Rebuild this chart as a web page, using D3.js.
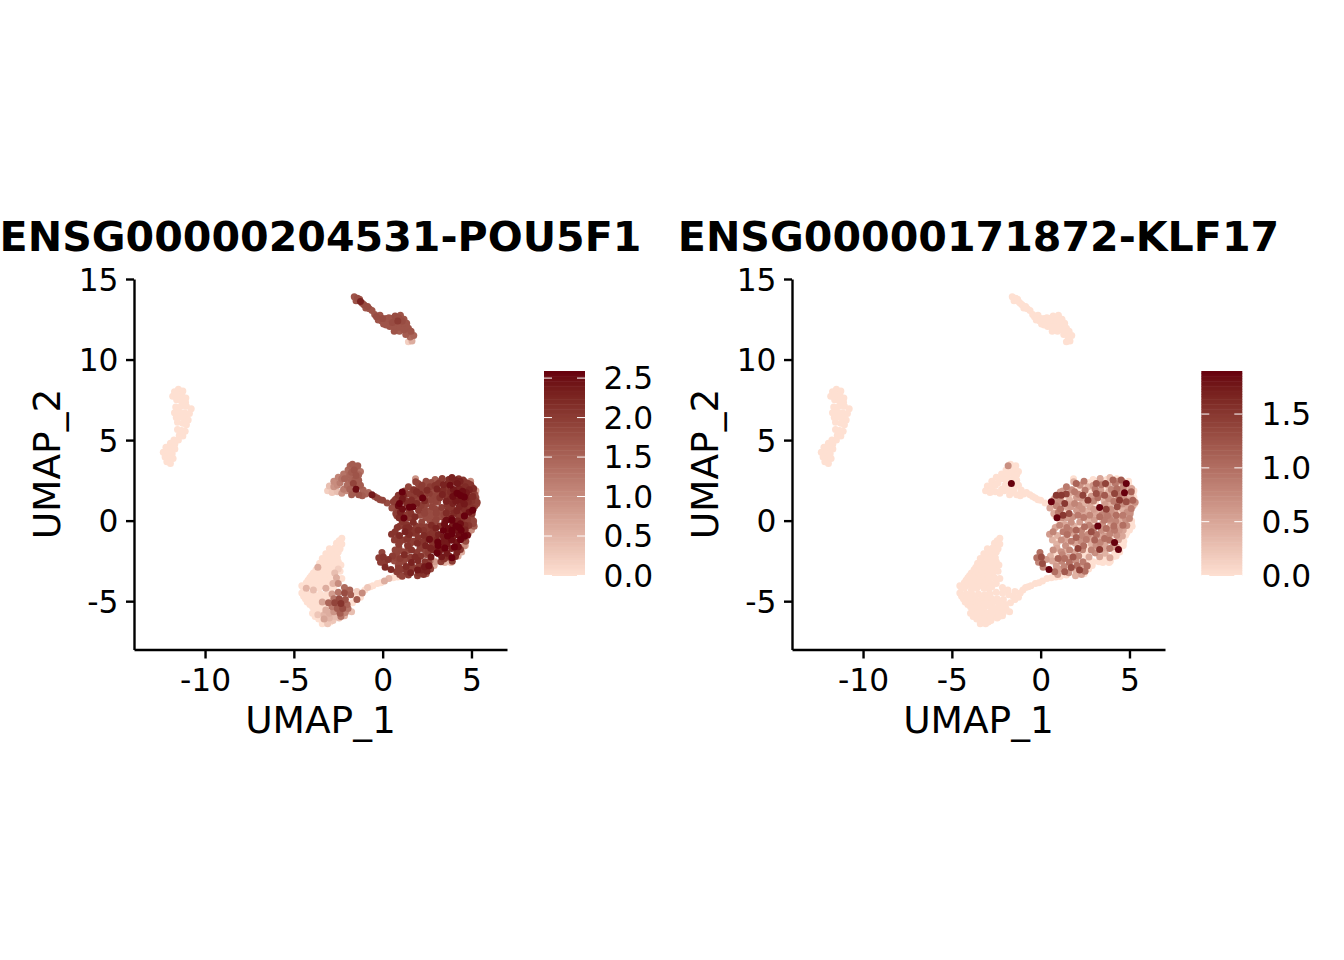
<!DOCTYPE html>
<html><head><meta charset="utf-8">
<script src="https://cdn.jsdelivr.net/npm/d3@7"></script>
<style>html,body{margin:0;padding:0;background:#fff}svg{display:block}text{font-family:"DejaVu Sans";fill:#000}</style>
</head><body><svg id="c" width="1344" height="960"></svg>
<script>
// every cell: [UMAP_1, UMAP_2, POU5F1, KLF17]
const farLeftIsland = [[-11.72,8.0,0,0],[-11.5,8.15,0,0],[-11.25,8.05,0,0],[-11.82,7.72,0,0],[-11.55,7.8,0,0],[-11.3,7.75,0,0],[-11.08,7.62,0,0],[-11.6,7.5,0,0],[-11.35,7.45,0,0],[-11.1,7.35,0,0],[-11.65,7.05,0,0],[-11.35,7.1,0,0],[-11.05,7.1,0,0],[-10.78,6.95,0,0],[-11.72,6.7,0,0],[-11.45,6.75,0,0],[-11.15,6.7,0,0],[-10.88,6.65,0,0],[-11.62,6.4,0,0],[-11.35,6.45,0,0],[-11.08,6.35,0,0],[-10.95,6.25,0,0],[-11.55,6.1,0,0],[-11.25,6.05,0,0],[-11.05,5.95,0,0],[-11.55,5.65,0,0],[-11.32,5.6,0,0],[-11.12,5.55,0,0],[-11.45,5.3,0,0],[-11.25,5.25,0,0],[-11.75,5.0,0,0],[-11.5,5.0,0,0],[-11.95,4.8,0,0],[-11.7,4.75,0,0],[-12.2,4.55,0,0],[-11.95,4.5,0,0],[-11.7,4.45,0,0],[-12.35,4.25,0,0],[-12.1,4.2,0,0],[-11.85,4.15,0,0],[-12.25,3.95,0,0],[-12.0,3.9,0,0],[-11.8,3.85,0,0],[-12.15,3.65,0,0],[-11.95,3.55,0,0]];
const topIsland = [[-1.6,13.9,1.7,0],[-1.42,13.8,1.8,0],[-1.5,13.65,1.7,0],[-1.25,13.6,2.3,0],[-1.3,13.75,1.7,0],[-1.15,13.5,1.8,0],[-1.05,13.4,1.8,0],[-0.95,13.2,1.7,0],[-0.85,13.3,1.8,0],[-0.75,13.15,1.7,0],[-0.6,13.05,1.7,0],[-0.45,12.8,1.7,0],[-0.35,12.65,1.8,0],[-0.15,12.75,1.7,0],[-0.25,12.45,1.7,0],[0.0,12.55,1.8,0],[-0.05,12.4,1.7,0],[0.2,12.35,1.7,0],[0.05,12.2,1.7,0],[0.35,12.6,1.7,0],[0.2,12.55,1.7,0],[0.55,12.3,1.8,0],[0.4,12.05,1.7,0],[0.2,12.15,1.7,0],[0.5,12.55,1.7,0],[0.7,12.7,1.8,0],[0.85,12.4,2.0,0],[0.75,12.05,1.7,0],[1.0,12.75,1.7,0],[0.9,12.6,1.8,0],[1.2,12.5,1.7,0],[1.1,12.4,1.8,0],[1.05,12.15,1.7,0],[1.35,12.25,1.7,0],[0.95,11.75,1.6,0],[0.9,12.0,1.7,0],[1.25,12.05,1.7,0],[1.2,11.85,1.7,0],[1.45,11.95,1.7,0],[0.65,11.75,1.7,0],[0.6,12.05,1.7,0],[1.4,11.7,1.6,0],[1.3,11.55,1.6,0],[1.6,11.75,1.7,0],[1.75,11.5,1.5,0],[1.55,11.4,1.4,0],[1.65,11.15,0.6,0],[1.45,11.1,0.2,0]];
const midArm = [[-1.7,3.5,1.6,0],[-1.4,3.4,1.6,0],[-1.83,3.4,1.5,0.7],[-1.55,3.3,1.5,0],[-1.95,3.15,1.4,0],[-1.6,3.15,1.7,0],[-1.25,3.05,1.3,0],[-1.75,3.0,1.6,0],[-2.2,2.9,1.3,0],[-1.85,2.85,1.5,0],[-1.5,2.8,1.7,0],[-1.35,2.85,1.5,0],[-2.5,2.7,1.1,0],[-1.95,2.65,1.4,0],[-2.3,2.6,1.3,0],[-2.15,2.6,1.5,0],[-1.75,2.5,1.5,0],[-1.55,2.55,1.6,0],[-1.35,2.5,1.6,0],[-2.75,2.45,1.0,0],[-2.4,2.35,1.2,0],[-1.9,2.35,1.3,0],[-2.0,2.2,1.4,0],[-1.65,2.3,1.9,1.9],[-1.45,2.15,1.5,0],[-1.25,2.2,1.6,0],[-3.0,2.15,0.4,0],[-2.75,2.1,0.9,0],[-2.55,2.2,1.0,0],[-2.2,1.95,1.2,0],[-2.05,1.85,1.0,0],[-1.85,1.95,1.5,0],[-1.5,1.95,2.5,0],[-1.1,1.9,1.5,0],[-3.1,1.85,0.2,0],[-2.85,1.75,0.3,0],[-2.55,1.8,0.4,0],[-2.3,1.7,0.9,0],[-1.75,1.6,1.6,0],[-1.6,1.75,1.5,0],[-1.35,1.6,1.7,0],[-1.15,1.55,1.6,0],[-0.95,1.65,1.5,0],[-0.8,1.75,1.4,0],[-0.6,1.6,2.4,0],[-0.45,1.5,1.7,0],[-0.3,1.4,1.9,0],[-0.15,1.3,1.8,0],[0.0,1.27,1.9,0],[0.25,1.1,1.8,0]];
const blobReadKlf = [[0.88,1.58,2.1,1.5],[1.16,1.58,2.3,1.5],[1.44,1.65,2.0,1.4],[1.35,1.07,2.2,1.5],[0.6,1.17,2.0,1.9],[1.26,0.34,2.0,1.5],[1.6,0.45,2.1,1.3],[0.92,0.18,2.2,1.9],[2.0,2.31,1.9,1.1],[2.44,2.45,1.8,0.9],[3.13,2.31,2.1,1.2],[3.65,2.31,2.2,1.4],[4.07,2.52,2.3,1.1],[4.53,2.52,2.1,1.2],[4.82,2.31,2.1,1.9],[5.1,1.79,2.0,1.1],[4.72,1.73,2.4,1.9],[4.44,1.27,2.4,1.5],[4.82,1.17,2.2,1.3],[5.19,1.27,2.0,1.1],[3.32,0.82,2.0,1.9],[3.69,0.7,2.1,1.4],[4.31,0.86,2.3,1.3],[4.16,1.69,2.5,1.4],[3.6,1.58,2.1,1.2],[3.13,1.69,1.9,1.3],[2.66,1.27,1.9,1.5],[2.38,1.58,1.9,1.4],[1.91,1.79,2.2,0.9],[1.91,1.07,2.2,0.8],[2.1,0.34,1.8,0.9],[2.76,0.34,1.8,0.8],[3.32,0.24,1.8,1.0],[3.88,0.14,2.5,0.8],[4.25,0.34,2.1,1.0],[4.63,0.34,2.3,0.9],[5.1,0.76,2.1,0.9],[5.0,0.14,1.9,0.8],[4.63,-0.28,2.2,1.0],[4.16,-0.59,2.4,0.9],[3.69,-0.49,2.5,1.0],[3.22,-0.34,2.1,1.9],[2.85,-0.69,2.1,1.3],[2.47,-0.38,2.0,1.0],[2.0,-0.59,2.2,1.1],[1.63,-0.59,2.1,0.8],[1.26,-0.69,2.3,0.9],[1.07,-0.28,2.0,0.8],[0.7,-0.69,2.1,0.8],[1.16,-1.21,2.0,0.7],[2.0,-1.04,2.1,1.1],[2.57,-1.17,2.2,0.9],[3.04,-1.21,2.2,1.1],[3.6,-1.11,2.4,1.0],[4.16,-1.35,2.4,1.9],[4.38,-1.79,2.1,1.9],[3.88,-1.73,2.3,0.9],[3.32,-1.79,2.4,1.5],[2.85,-1.83,2.2,0.8],[2.1,-1.73,2.0,1.4],[1.63,-1.83,2.1,0.8],[1.16,-1.93,1.9,0.7],[0.7,-1.83,1.9,0.7],[0.04,-2.25,2.1,1.3],[0.1,-2.66,2.0,1.3],[0.47,-3.03,2.2,1.9],[0.98,-2.35,2.0,1.1],[1.35,-2.35,1.9,1.0],[1.82,-2.25,2.2,1.2],[2.38,-2.56,2.1,0.9],[2.19,-3.07,2.3,1.4],[1.72,-2.91,2.0,1.3],[1.35,-3.18,2.1,1.2],[0.79,-3.18,2.0,1.0]];
const blobDarkestPou = [[1.7,0.85,2.59,0.6],[1.5,0.83,2.59,0.5],[0.95,1.07,2.59,0.7],[1.1,1.77,2.59,0.6],[1.2,0.17,2.59,0.7],[4.2,1.7,2.59,0.7],[4.6,1.47,2.59,0.6],[5.07,0.65,2.59,0.5],[4.6,0.28,2.59,0.6],[3.9,0.03,2.59,0.7],[4.3,-0.42,2.59,0.5],[4.42,-0.6,2.59,0.6],[4.6,-0.96,2.59,0.5],[3.9,-0.6,2.59,0.7],[3.65,-0.96,2.59,0.6],[3.1,-1.33,2.59,0.5],[3.12,-1.55,2.59,0.7],[3.5,-1.7,2.59,0.5],[4.04,-1.64,2.59,0.6],[3.9,-2.3,2.59,0.5],[2.6,-2.8,2.5,0.6],[2.25,1.4,2.59,0.6],[2.64,-1.15,2.5,0.5]];
const mainBlobUpper = [[3.35,2.62,2.0,0.5],[3.72,2.55,2.2,0],[3.9,2.68,2.3,0.3],[4.28,2.6,2.1,0],[4.62,2.42,2.0,0.7],[1.86,2.42,1.9,0.4],[2.22,2.2,2.0,0.7],[2.73,2.36,1.8,0],[2.95,2.18,2.1,0.6],[3.42,2.22,2.3,0.9],[3.8,2.2,2.5,0.5],[4.2,2.3,2.4,0.9],[4.36,2.44,2.3,0.6],[4.66,2.1,2.2,0.8],[4.96,2.22,2.1,0],
[1.45,2.1,1.9,0.9],[1.75,1.92,2.1,0.7],[2.15,2.02,2.0,0],[2.5,1.88,2.2,0.9],[2.66,2.1,2.0,0.4],[3.06,1.96,2.3,0.9],[3.38,1.88,2.2,0.6],[3.58,2.02,2.1,0],[3.98,1.94,2.4,0.8],[4.3,1.98,2.3,1.0],[4.5,1.82,2.5,0.7],[4.88,1.92,2.3,0.4],[5.12,2.0,2.2,0.5],[1.24,1.84,1.9,0.6],[1.62,1.68,2.0,0.4],[2.12,1.64,2.2,0.8],[2.62,1.68,2.0,0],[2.85,1.52,1.9,0.6],[3.36,1.62,2.3,0.8],[3.82,1.78,2.2,0.4],[3.95,1.5,2.5,0.5],[4.38,1.56,2.6,0.9],[5.08,1.5,2.2,0.4],[0.78,1.36,2.0,0.6],[1.1,1.32,2.4,0.7],[1.62,1.28,2.2,0.4],[2.02,1.44,1.9,0.6],[2.36,1.24,2.2,0.4],[2.98,1.22,1.9,0.8],[3.22,1.42,2.1,1.0],[3.58,1.2,2.3,0.4],[3.82,1.36,2.2,0.7],[4.12,1.2,2.4,0.9],[4.7,1.42,2.3,0.7],[5.02,1.22,2.1,0.6],[5.32,1.14,2.0,0.7],[0.88,0.92,2.5,0.8],[1.6,0.98,2.2,0.5],[2.16,0.94,2.0,0.7],[2.44,1.0,1.9,0.4],[2.78,0.86,1.9,0.5],[3.62,1.0,2.1,0.6],[3.95,1.06,2.3,0.4],[4.6,1.04,2.4,0.7],[4.9,0.88,2.1,0.5],[5.2,0.92,2.0,0.4],[0.52,0.78,1.8,0.5],[1.12,0.72,2.5,1.0],[2.02,0.64,2.0,0.6],[2.34,0.72,1.9,0.7],[2.6,0.58,1.8,0.4],[2.98,0.7,1.9,0.6],[3.02,0.46,1.9,0.5],[3.58,0.48,2.2,0.4],[3.95,0.7,2.1,0.7],[4.18,0.62,2.3,0.5],[4.58,0.74,2.2,0.4],[4.86,0.52,2.5,0.7],[0.74,0.44,2.0,0.5],[1.0,0.52,2.3,0.9],[1.48,0.18,2.0,0.6],[1.82,0.24,2.2,0.7],[2.42,0.2,1.8,0.9],[2.36,0.46,1.9,0.5],[3.18,0.56,1.8,0.4],[3.45,0.36,1.9,0.8],[3.76,0.32,2.0,0.9],[4.0,0.46,2.2,0.7],[4.44,0.12,2.1,0.4],[5.04,0.42,2.1,0.7]];
const mainBlobLower = [[1.72,-0.1,2.2,0.7],[2.2,-0.08,1.9,0.6],[2.65,0.02,1.8,0.4],[3.02,0.06,1.9,0.6],[3.58,0.02,2.5,0.9],[4.22,-0.02,2.3,0.8],[4.78,0.05,2.0,0.7],[1.36,-0.24,2.1,0.5],[1.88,-0.34,2.0,0.4],[2.74,-0.28,2.2,0.8],[3.48,-0.22,2.5,0.7],[3.92,-0.3,2.3,0.4],[4.38,-0.2,2.5,0.5],[4.85,-0.3,2.1,0.7],[5.1,-0.18,1.9,0],[0.82,-0.42,2.1,0.5],[1.48,-0.42,2.2,0.9],[2.3,-0.62,2.1,0.8],[3.0,-0.46,2.3,0.9],[3.42,-0.62,2.6,0.7],[4.12,-0.34,2.6,1.0],[4.65,-0.58,2.3,0.5],[5.0,-0.58,1.0,0],[0.5,-0.84,2.1,0.6],[0.95,-0.92,2.2,0.4],[1.5,-0.86,2.2,1.0],[1.78,-0.78,2.1,0.5],[2.32,-0.92,2.2,0.8],[2.66,-0.86,2.1,0.7],[3.14,-0.86,2.3,1.0],[3.42,-1.02,2.4,0.5],[3.9,-0.82,2.6,0.8],[4.28,-0.9,2.5,0.7],[4.78,-0.9,2.5,0],[0.66,-1.2,2.0,0.4],[1.38,-1.12,2.1,0.5],[1.72,-1.28,2.0,0.9],[2.28,-1.3,2.1,0.7],[2.82,-1.02,2.1,0.5],[3.35,-1.36,2.4,0.8],[3.88,-1.22,2.5,1.0],[4.38,-1.18,2.6,0.5],[4.68,-1.28,1.8,0],[0.9,-1.46,2.0,0.4],[1.4,-1.54,2.1,0.7],[1.95,-1.4,2.2,0.5],[2.42,-1.56,2.3,1.0],[2.85,-1.44,2.1,0.4],[3.62,-1.46,2.4,0.5],[4.26,-1.62,2.5,0.5],[4.58,-1.58,1.0,0],[0.92,-1.72,1.9,0.5],[1.42,-1.86,1.8,0.4],[1.92,-1.98,2.0,0.5],[2.36,-1.8,1.9,0.8],[3.06,-2.0,2.6,0.7],[3.62,-2.02,2.4,0.4],[4.18,-1.98,2.3,0],[-0.04,-1.98,1.9,1.0],[0.55,-2.2,2.0,0.4],[1.22,-2.12,2.2,0.8],[1.56,-2.28,2.0,0.5],[2.14,-2.2,2.1,0.8],[2.45,-2.1,1.8,0],[2.72,-2.26,2.4,0.5],[3.32,-2.24,2.4,0.5],[3.66,-2.28,2.0,0],[4.1,-2.22,2.2,0],[3.92,-2.52,2.0,0],[-0.22,-2.3,2.0,1.0],[0.32,-2.42,2.1,0.6],[0.66,-2.5,1.8,0.5],[1.18,-2.52,1.9,0.8],[1.62,-2.6,2.3,1.0],[1.98,-2.48,2.2,0.7],[2.68,-2.48,1.2,0],[3.28,-2.56,2.0,0],[-0.12,-2.58,2.0,0.8],[0.88,-2.8,1.9,0.6],[1.32,-2.84,2.2,0.8],[2.05,-2.78,2.0,1.0],[2.36,-2.86,2.4,0.5],[2.62,-2.82,2.2,1.0],[0.14,-2.9,2.2,0.8],[1.04,-3.02,2.0,0.6],[1.58,-3.24,2.3,0.7],[1.96,-3.06,2.4,0.4],[2.5,-3.14,2.3,1.0],[0.96,-3.34,1.9,0.6],[1.96,-3.42,2.0,0.4],[2.3,-3.34,2.1,0.5]];
const mainBlobInfill = [[2.05,2.15,1.8,0],[2.55,2.2,1.7,0],[3.25,2.45,1.9,0],[3.85,2.4,2.0,0],[4.45,2.25,2.1,0],[5.0,2.1,1.9,0],[1.7,1.9,1.8,0],[2.3,1.85,1.9,0],[2.9,1.85,1.8,0],[3.5,1.82,2.0,0],[4.1,1.82,2.2,0],[4.65,2.0,2.0,0],[5.2,1.6,1.8,0],[1.05,1.6,1.9,0],[1.75,1.55,2.0,0],[2.35,1.42,1.6,0],[2.98,1.5,1.8,0],[3.6,1.42,2.0,0],[4.25,1.48,2.2,0],[4.85,1.5,2.0,0],[5.25,1.42,1.8,0],[0.7,1.3,1.9,0],[1.3,1.25,2.1,0],[1.95,1.22,1.9,0],[3.1,1.15,1.8,0],[3.75,1.22,1.9,0],[4.35,1.2,2.1,0],[5.3,1.05,1.7,0],[0.7,0.95,1.8,0],[2.25,0.9,1.8,0],[2.85,1.02,1.6,0],[3.75,0.88,1.9,0],[4.4,0.88,2.0,0],[5.0,0.82,1.8,0],[0.85,0.62,1.9,0],[1.5,0.6,2.0,0],[2.75,0.55,1.6,0],[3.3,0.58,1.7,0],[4.45,0.55,2.0,0],[0.8,0.3,1.9,0],[1.45,0.28,2.0,0],[2.65,0.25,1.6,0],[3.05,0.2,1.7,0],[5.12,-0.02,1.8,0],[1.1,-0.05,2.1,0],[2.95,-0.05,1.9,0],[3.5,-0.05,2.2,0],[4.1,-0.05,2.2,0],[4.7,-0.07,2.0,0],[5.15,-0.35,1.6,0],[0.95,-0.35,2.0,0],[2.15,-0.38,2.0,0],[2.75,-0.5,2.0,0],[3.95,-0.38,2.3,0],[4.55,-0.4,2.2,0],[1.3,-0.45,2.2,0],[1.9,-0.7,2.0,0],[2.5,-0.72,2.0,0],[3.7,-0.72,2.3,0],[4.3,-0.72,2.4,0],[4.85,-0.75,0.8,0],[0.85,-1.02,2.0,0],[1.45,-1.03,2.0,0],[3.95,-1.05,2.3,0],[4.55,-1.05,2.3,0],[0.95,-1.35,2.0,0],[1.6,-1.37,2.0,0],[2.2,-1.4,2.0,0],[2.8,-1.4,2.1,0],[4.65,-1.55,0.7,0],[1.5,-1.7,2.0,0],[2.7,-1.72,2.3,0],[3.1,-1.72,2.3,0],[4.45,-1.95,0.6,0],[0.8,-2.0,1.9,0],[2.55,-2.0,2.0,0],[3.15,-2.05,2.3,0],[3.75,-2.2,2.2,0],[4.25,-2.2,0.6,0],[0.75,-2.3,1.9,0],[2.0,-2.32,2.0,0],[2.6,-2.6,1.9,0],[3.45,-2.38,2.1,0],[3.85,-2.6,0.4,0],[3.5,-2.6,0.5,0],[2.95,-2.55,0.8,0],[0.95,-2.62,1.9,0],[1.6,-2.85,2.0,0],[2.9,-2.78,0.6,0],[0.9,-2.95,2.0,0],[1.5,-2.98,2.0,0],[2.7,-3.0,1.9,0],[1.45,-3.38,2.0,0],[2.05,-3.25,2.1,0],[1.1,-3.45,1.9,0],[2.45,-3.3,1.5,0],[5.25,1.85,0.7,0],[4.95,2.45,1.0,0],[1.85,2.6,0.9,0],[2.95,2.55,1.6,0]];
const lowerLeftMass = [[-2.3,-1.1,0,0],[-2.45,-1.25,0,0],[-2.6,-1.4,0,0],[-2.3,-1.45,0,0],[-3.0,-1.75,0,0],[-2.7,-1.7,0,0],[-2.4,-1.75,0,0],[-2.85,-1.9,0,0],[-2.5,-1.95,0,0],[-3.2,-2.05,0,0],[-2.9,-2.0,0,0],[-2.6,-2.05,0,0],[-3.05,-2.15,0,0],[-2.75,-2.2,0,0],[-3.4,-2.35,0,0],[-3.1,-2.3,0,0],[-2.8,-2.35,0,0],[-2.55,-2.3,0,0],[-3.35,-2.5,0,0],[-3.0,-2.45,0,0],[-2.5,-2.55,0,0],[-3.55,-2.65,0,0],[-3.25,-2.6,0,0],[-2.95,-2.65,0,0],[-2.65,-2.6,0,0],[-2.35,-2.75,0,0],[-3.5,-2.8,0,0],[-3.2,-2.75,0,0],[-2.65,-2.85,0,0],[-3.65,-2.9,0.6,0],[-3.4,-2.95,0,0],[-3.1,-2.9,0,0],[-2.8,-2.95,0,0],[-2.5,-3.0,0.2,0],[-3.75,-3.05,0,0],[-3.45,-3.1,0,0],[-3.15,-3.05,0,0],[-2.85,-3.1,0,0],[-3.9,-3.25,0,0],[-3.6,-3.2,0,0],[-3.3,-3.25,0,0],[-3.0,-3.2,0,0],[-2.7,-3.25,0.4,0],[-2.4,-3.15,0,0],[-4.0,-3.4,0,0],[-3.65,-3.35,0,0],[-3.35,-3.4,0,0],[-3.05,-3.35,0,0],[-2.75,-3.4,0,0],[-4.1,-3.55,0,0],[-3.8,-3.5,0,0],[-3.5,-3.55,0,0],[-3.2,-3.5,0,0],[-2.9,-3.55,0,0],[-2.6,-3.55,0.6,0],[-2.3,-3.6,0,0],[-4.2,-3.7,0,0],[-3.85,-3.7,0,0],[-3.55,-3.7,0,0],[-3.25,-3.7,0,0],[-2.95,-3.72,0,0],[-4.3,-3.85,0,0],[-4.0,-3.85,0,0],[-3.7,-3.85,0,0],[-3.4,-3.85,0,0],[-3.1,-3.85,0,0],[-2.8,-3.9,0.5,0],[-2.5,-3.9,1.0,0],[-4.55,-4.05,0,0],[-4.2,-4.05,0,0],[-3.85,-4.05,0,0],[-3.5,-4.05,0,0],[-3.1,-4.05,0,0],[-2.75,-4.1,0,0],[-4.45,-4.2,0,0],[-4.3,-4.2,0.5,0],[-3.9,-4.3,0.4,0],[-3.6,-4.2,0,0],[-3.2,-4.2,0.6,0],[-2.9,-4.25,0,0],[-4.55,-4.5,0,0],[-4.2,-4.55,0,0],[-3.85,-4.6,0,0],[-3.5,-4.55,0,0],[-3.15,-4.6,0,0],[-2.85,-4.55,0.8,0],[-4.45,-4.7,0,0],[-4.05,-4.7,0,0],[-3.7,-4.7,0,0],[-3.3,-4.75,0,0],[-2.95,-4.75,0,0],[-4.35,-4.85,0,0],[-4.0,-4.9,0,0],[-3.65,-4.9,0,0],[-3.4,-5.05,0.7,0],[-3.0,-4.9,0,0],[-4.25,-5.05,0,0],[-3.85,-5.05,0,0],[-3.6,-5.1,0,0],[-3.15,-5.1,0,0],[-4.1,-5.2,0,0],[-3.75,-5.25,0,0],[-3.4,-5.25,0,0],[-3.95,-5.35,0,0],[-3.6,-5.35,0,0],[-3.2,-5.35,0,0],[-3.85,-5.55,0,0],[-3.55,-5.5,0,0],[-3.2,-5.55,0.6,0],[-3.45,-5.7,0,0],[-3.95,-5.75,0,0],[-3.65,-5.85,0.3,0],[-3.3,-5.85,0.5,0],[-3.0,-5.75,0.6,0],[-3.8,-5.95,0,0],[-3.45,-6.0,0,0],[-3.6,-6.1,0,0],[-3.3,-6.1,0.7,0],[-3.0,-6.05,0.5,0],[-2.7,-5.95,0.4,0],[-3.2,-6.2,0,0],[-3.4,-6.4,0,0],[-3.1,-6.4,0.3,0],[-2.95,-6.3,0,0],[-2.8,-6.2,0.3,0],[-2.45,-6.05,0.4,0],[-2.15,-5.9,0.5,0]];
const darkSubcluster = [[-2.15,-4.15,1.4,0],[-1.85,-4.3,1.5,0],[-2.5,-4.45,1.3,0],[-2.15,-4.5,1.8,0],[-1.8,-4.6,1.6,0],[-2.75,-4.85,1.3,0],[-2.45,-4.85,1.8,0],[-2.1,-4.9,1.7,0],[-3.05,-5.1,1.5,0],[-2.7,-5.1,1.9,0],[-2.35,-5.15,2.1,0],[-2.0,-5.2,1.5,0],[-2.85,-5.35,1.2,0],[-2.55,-5.45,1.6,0],[-2.25,-5.45,1.8,0],[-1.95,-5.45,1.3,0],[-2.75,-5.65,0.9,0],[-2.4,-5.75,1.6,0],[-2.1,-5.7,1.1,0],[-2.35,-5.95,1.3,0],[-1.75,-5.65,0.4,0]];
const tailCells = [[-1.45,-4.9,1.6,0],[-1.45,-4.4,0.2,0],[-1.15,-4.5,1.0,0],[-0.85,-4.15,0.3,0],[-0.55,-4.05,0,0],[-0.3,-3.9,0,0],[0.1,-3.75,0.6,0],[0.35,-3.6,0.5,0],[-0.1,-3.85,0,0],[0.6,-3.55,0,0],[0.85,-3.5,0,0],[1.1,-3.45,0,0],[-1.55,-4.7,0,0],[-1.7,-5.1,0,0],[-1.0,-4.3,0,0],[-0.7,-4.1,0,0],[-1.25,-4.75,0,0]];
const panelTitles = ["ENSG00000204531-POU5F1","ENSG00000171872-KLF17"];
const legendTicks = [[0,0.5,1,1.5,2,2.5],[0,0.5,1,1.5]];
const legendMax = [2.59,1.9];
const xTicks = [-10,-5,0,5], yTicks = [-5,0,5,10,15];
const lowColor = "#fee0d2", highColor = "#67000d";

const cells = [...farLeftIsland,...topIsland,...midArm,...mainBlobInfill,...mainBlobUpper,...mainBlobLower,...blobReadKlf,...blobDarkestPou,...lowerLeftMass,...darkSubcluster,...tailCells];
const svg = d3.select("#c");
const panels = [{x0:134,x1:507,bar:544,lab:603.5,idx:2},{x0:792,x1:1165,bar:1201.3,lab:1261.5,idx:3}];
const tickFont = 31.3, axisFont = 37.5;
const plain = d => String(d);
panels.forEach((p,i)=>{
  const x = d3.scaleLinear().domain([-14,7]).range([p.x0,p.x1]);
  const y = d3.scaleLinear().domain([-8,15]).range([649.5,279]);
  const col = d3.scaleLinear().domain([0,legendMax[i]]).range([lowColor,highColor]).interpolate(d3.interpolateLab).clamp(true);
  const g = svg.append("g");
  const sorted = d3.sort(cells,(a,b)=>d3.ascending(a[p.idx],b[p.idx]));
  g.selectAll("circle").data(sorted).join("circle")
    .attr("cx",d=>x(d[0])).attr("cy",d=>y(d[1])).attr("r",3.5).attr("fill",d=>col(d[p.idx]));
  const ax = svg.append("g").attr("transform","translate(0,649.5)")
    .call(d3.axisBottom(x).tickValues(xTicks).tickSizeInner(9).tickSizeOuter(0).tickPadding(10).tickFormat(plain));
  const ay = svg.append("g").attr("transform",`translate(${p.x0},0)`)
    .call(d3.axisLeft(y).tickValues(yTicks).tickSizeInner(8).tickSizeOuter(0).tickPadding(7.5).tickFormat(plain));
  [ax,ay].forEach(a=>{
    a.selectAll("path").attr("stroke","#000").attr("stroke-width",2.4);
    a.selectAll("line").attr("stroke","#000").attr("stroke-width",2.4);
    a.selectAll("text").style("font-family","DejaVu Sans").style("font-size",tickFont+"px").attr("fill","#000");
  });
  ay.selectAll("text").attr("dy","0.36em");
  svg.append("text").attr("x",(p.x0+p.x1)/2).attr("y",733).attr("text-anchor","middle").style("font-size",axisFont+"px").text("UMAP_1");
  svg.append("text").attr("transform",`translate(${p.x0-74},464) rotate(-90)`).attr("text-anchor","middle").style("font-size",axisFont+"px").text("UMAP_2");
  svg.append("text").attr("x",(p.x0+p.x1)/2).attr("y",251).attr("text-anchor","middle").style("font-size","41.15px").style("font-weight","bold").text(panelTitles[i]);
  // colourbar
  const ly = d3.scaleLinear().domain([0,legendMax[i]]).range([575.5,371]);
  const bins = d3.range(80);
  svg.append("g").selectAll("rect").data(bins).join("rect")
    .attr("x",p.bar).attr("width",41)
    .attr("y",b=>ly((b+1)/80*legendMax[i])).attr("height",b=>ly(b/80*legendMax[i])-ly((b+1)/80*legendMax[i])+0.5)
    .attr("fill",b=>col((b+0.5)/80*legendMax[i]));
  const tk = svg.append("g");
  legendTicks[i].forEach(v=>{
    tk.append("line").attr("x1",p.bar).attr("x2",p.bar+8).attr("y1",ly(v)).attr("y2",ly(v)).attr("stroke","#fff").attr("stroke-width",1);
    tk.append("line").attr("x1",p.bar+33).attr("x2",p.bar+41).attr("y1",ly(v)).attr("y2",ly(v)).attr("stroke","#fff").attr("stroke-width",1);
    tk.append("text").attr("x",p.lab).attr("y",ly(v)).attr("dy","0.36em").style("font-size",tickFont+"px").text(d3.format(".1f")(v));
  });
});
</script></body></html>
